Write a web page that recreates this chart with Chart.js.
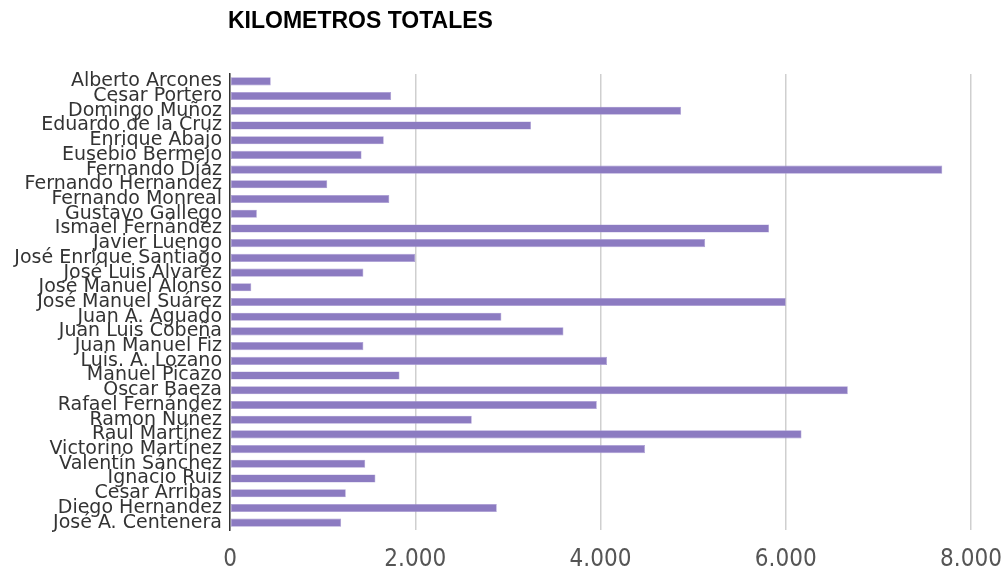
<!DOCTYPE html>
<html>
<head>
<meta charset="utf-8">
<title>Kilometros totales</title>
<script src="https://cdn.jsdelivr.net/npm/chart.js@4/dist/chart.umd.min.js"></script>
<style>
  html, body { margin: 0; padding: 0; background: #fff; }
  #wrap { width: 1003px; height: 569px; position: relative; }
</style>
</head>
<body>
<div id="wrap"><canvas id="kmChart"></canvas></div>
<script>
// corredores y km acumulados
const corredores = [
  "Alberto Arcones", "Cesar Portero", "Domingo Muñoz", "Eduardo de la Cruz",
  "Enrique Abajo", "Eusebio Bermejo", "Fernando Díaz", "Fernando Hernandez",
  "Fernando Monreal", "Gustavo Gallego", "Ismael Fernández", "Javier Luengo",
  "José Enrique Santiago", "José Luis Álvarez", "José Manuel Alonso", "José Manuel Suárez",
  "Juan A. Aguado", "Juan Luis Cobeña", "Juan Manuel Fiz", "Luis. A. Lozano",
  "Manuel Picazo", "Oscar Baeza", "Rafael Fernández", "Ramon Nuñez",
  "Raul Martínez", "Victorino Martínez", "Valentín Sánchez", "Ignacio Ruiz",
  "Cesar Arribas", "Diego Hernandez", "José A. Centenera"
];
const kilometros = [
  440, 1740, 4870, 3250,
  1660, 1420, 7690, 1050,
  1720, 290, 5820, 5130,
  2000, 1440, 230, 6000,
  2930, 3600, 1440, 4070,
  1830, 6670, 3960, 2610,
  6170, 4480, 1460, 1570,
  1250, 2880, 1200
];
const titulo = "KILOMETROS TOTALES";
const ejeMax = 8000;
const ejePaso = 2000;

// 2000 -> "2.000"
function miles(v){
  return String(v).replace(/\B(?=(\d{3})+(?!\d))/g, ".");
}

// titulo alineado con el area del grafico
const tituloPlugin = {
  id: "tituloIzq",
  afterDraw(chart){
    const ctx = chart.ctx;
    ctx.save();
    ctx.font = 'bold 23px "Liberation Sans", Arial, sans-serif';
    ctx.fillStyle = "#000";
    ctx.textAlign = "left";
    ctx.textBaseline = "middle";
    ctx.fillText(titulo, chart.chartArea.left - 2, 22);
    ctx.restore();
  }
};

const ctx = document.getElementById("kmChart").getContext("2d");
new Chart(ctx, {
  type: "bar",
  data: {
    labels: corredores,
    datasets: [{
      label: titulo,
      data: kilometros,
      backgroundColor: "#8c7bc1",
      borderColor: "#a99ad3",
      borderWidth: 0.6,
      borderSkipped: false,
      categoryPercentage: 1,
      barPercentage: 0.55
    }]
  },
  options: {
    indexAxis: "y",
    responsive: true,
    maintainAspectRatio: false,
    animation: false,
    layout: { padding: { top: 74, right: 0, left: 0, bottom: 0 } },
    plugins: {
      legend: { display: false },
      tooltip: { enabled: false }
    },
    scales: {
      x: {
        min: 0,
        max: ejeMax,
        ticks: {
          stepSize: ejePaso,
          color: "#555",
          padding: 15,
          font: { family: '"Liberation Sans Narrow", "DejaVu Sans Condensed", "Liberation Sans", sans-serif', size: 24 },
          callback: v => miles(v)
        },
        grid: { color: "#cfcfcf", lineWidth: 1.5, drawTicks: false },
        border: { display: false },
        afterFit(scale){
          scale.height = 39;
          scale.paddingLeft = 0;
          scale.paddingRight = 32;
        }
      },
      y: {
        ticks: {
          autoSkip: false,
          color: "#333",
          padding: 8,
          font: { family: '"DejaVu Sans", sans-serif', size: 19 }
        },
        grid: { display: false, drawTicks: false },
        border: { display: true, color: "#333", width: 1.5 },
        afterFit(scale){ scale.width = 230; }
      }
    }
  },
  plugins: [tituloPlugin]
});
</script>
</body>
</html>
